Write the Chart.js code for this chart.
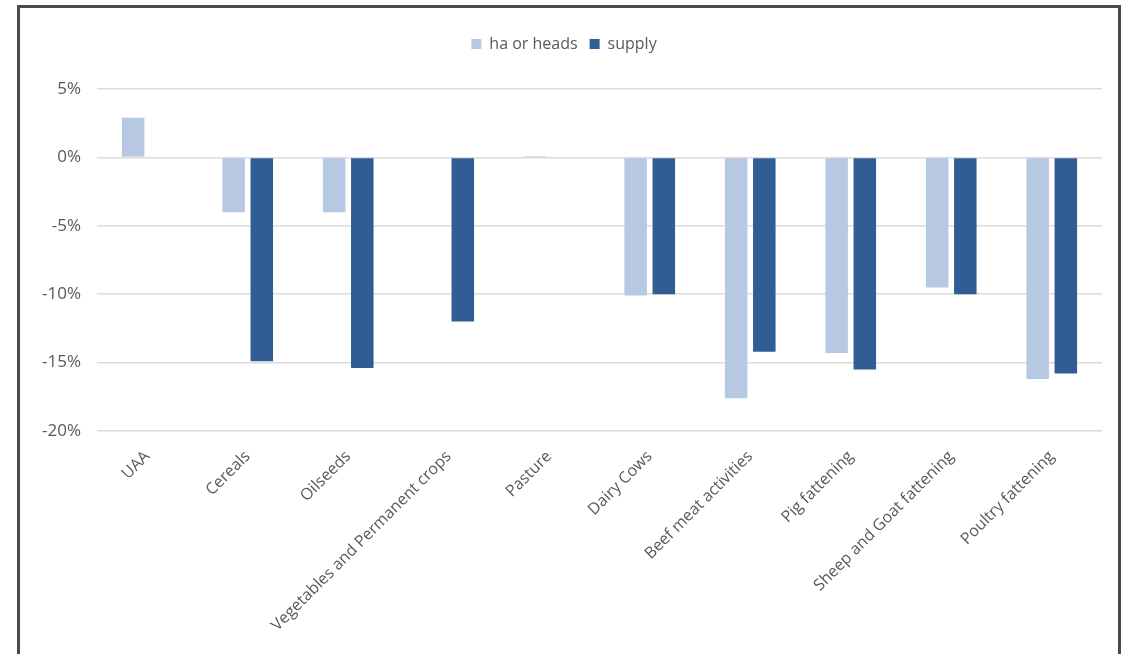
<!DOCTYPE html>
<html>
<head>
<meta charset="utf-8">
<script src="https://cdn.jsdelivr.net/npm/chart.js@4/dist/chart.umd.min.js"></script>
<style>
  html, body { margin: 0; padding: 0; background: #fff; }
  #wrap { position: relative; width: 1124px; height: 654px; overflow: hidden; }
  #frame {
    position: absolute; left: 17px; top: 5px; width: 1104px; height: 700px;
    border: 3px solid #4a4a4a; border-bottom: none; box-sizing: border-box;
  }
  canvas { position: absolute; left: 0; top: 0; }
</style>
</head>
<body>
<div id="wrap">
  <div id="frame"></div>
  <canvas id="chart" width="1124" height="654"></canvas>
</div>
<script>
// values in percent
const categories = ['UAA', 'Cereals', 'Oilseeds', 'Vegetables and Permanent crops', 'Pasture',
  'Dairy Cows', 'Beef meat activities', 'Pig fattening', 'Sheep and Goat fattening', 'Poultry fattening'];
const haOrHeads = [2.9, -4.0, -4.0, 0, 0.1, -10.1, -17.6, -14.3, -9.5, -16.2];
const supply = [null, -14.9, -15.4, -12.0, null, -10.0, -14.2, -15.5, -10.0, -15.8];
const yTicks = [5, 0, -5, -10, -15, -20];

const FONT = "'Open Sans', 'Noto Sans', sans-serif";
const GREY = '#595959';

// extra room between legend and plot
const legendGap = {
  id: 'legendGap',
  beforeInit(chart) {
    const fit = chart.legend.fit;
    chart.legend.fit = function() {
      fit.call(this);
      this.height += 27;
    };
  },
};

new Chart(document.getElementById('chart'), {
  type: 'bar',
  data: {
    labels: categories,
    datasets: [
      {
        label: 'ha or heads',
        data: haOrHeads,
        backgroundColor: '#b7c9e2',
        categoryPercentage: 0.56,
        barPercentage: 0.8,
      },
      {
        label: 'supply',
        data: supply,
        backgroundColor: '#305d93',
        categoryPercentage: 0.56,
        barPercentage: 0.8,
      },
    ],
  },
  plugins: [legendGap],
  options: {
    responsive: false,
    animation: false,
    layout: { padding: { left: 26, right: 22, top: 24, bottom: 11 } },
    plugins: {
      legend: {
        display: true,
        position: 'top',
        labels: { color: GREY, font: { size: 16, family: FONT }, boxWidth: 10, boxHeight: 10, padding: 12 },
      },
      tooltip: { enabled: false },
    },
    scales: {
      x: {
        grid: { display: false },
        border: { display: false },
        ticks: { color: GREY, font: { size: 16, family: FONT }, maxRotation: 45, minRotation: 45, autoSkip: false, padding: 8 },
      },
      y: {
        min: -20,
        max: 5,
        afterBuildTicks: axis => { axis.ticks = yTicks.map(v => ({ value: v })); },
        grid: { color: '#dcdcdc', lineWidth: 1.5, drawTicks: false },
        border: { display: false },
        ticks: { color: GREY, font: { size: 17, family: FONT }, padding: 16, callback: v => v + '%' },
      },
    },
  },
});
</script>
</body>
</html>
